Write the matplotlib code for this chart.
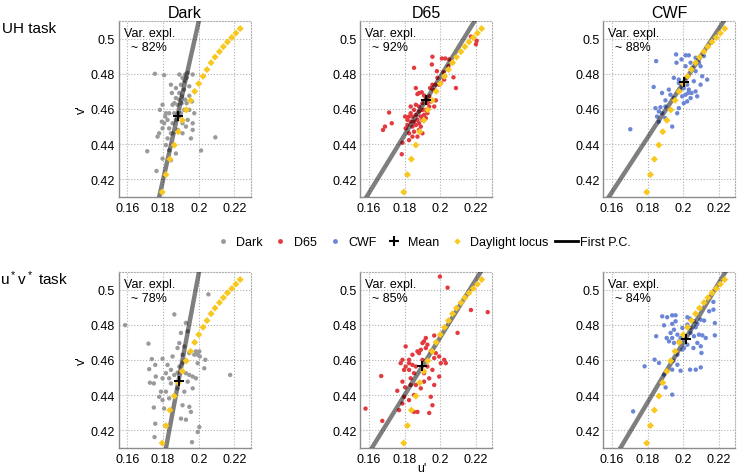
import matplotlib
matplotlib.use('Agg')
import matplotlib.pyplot as plt
from matplotlib.lines import Line2D

plt.rcParams['font.family'] = ['Liberation Sans', 'DejaVu Sans']
plt.rcParams['mathtext.default'] = 'regular'

# data (u', v')
dark_uh = [(0.1754, 0.4800), (0.1806, 0.4792), (0.1891, 0.4796), (0.1966, 0.4796), (0.1844, 0.4738),
           (0.1849, 0.4691), (0.1872, 0.4719), (0.1900, 0.4738), (0.1919, 0.4758), (0.1938, 0.4805),
           (0.1909, 0.4777), (0.1891, 0.4691), (0.1906, 0.4672), (0.1924, 0.4653), (0.1932, 0.4633),
           (0.1947, 0.4675), (0.1962, 0.4643), (0.1975, 0.4576), (0.1966, 0.4519), (0.1966, 0.4481),
           (0.1956, 0.4433), (0.1919, 0.4595), (0.1881, 0.4624), (0.1853, 0.4624), (0.1797, 0.4624),
           (0.1782, 0.4595), (0.1816, 0.4576), (0.1825, 0.4538), (0.1806, 0.4519), (0.1797, 0.4490),
           (0.1778, 0.4462), (0.1769, 0.4443), (0.1834, 0.4490), (0.1853, 0.4519), (0.1872, 0.4538),
           (0.1891, 0.4557), (0.1900, 0.4576), (0.1909, 0.4519), (0.1928, 0.4500), (0.1844, 0.4462),
           (0.1825, 0.4433), (0.1816, 0.4395), (0.1834, 0.4366), (0.1863, 0.4395), (0.1711, 0.4360),
           (0.1763, 0.4248), (0.2013, 0.4364), (0.2093, 0.4439), (0.1872, 0.4347), (0.1844, 0.4309),
           (0.1797, 0.4318), (0.1853, 0.4462), (0.1883, 0.4481), (0.1909, 0.4462), (0.1938, 0.4538),
           (0.1947, 0.4595), (0.1863, 0.4576), (0.1834, 0.4576), (0.1812, 0.4557), (0.1793, 0.4528),
           (0.1891, 0.4653), (0.1872, 0.4662), (0.1863, 0.4633), (0.1917, 0.4710), (0.1904, 0.4633),
           (0.1947, 0.4729), (0.1924, 0.4796), (0.1932, 0.4777)]

d65_uh = [(0.1956, 0.4897), (0.1953, 0.4853), (0.2009, 0.4887), (0.2028, 0.4887), (0.1981, 0.4815),
          (0.2018, 0.4809), (0.2046, 0.4843), (0.2069, 0.4863), (0.2050, 0.4882), (0.2074, 0.4780),
          (0.2088, 0.4719), (0.2003, 0.4748), (0.2022, 0.4767), (0.1956, 0.4738), (0.1975, 0.4738),
          (0.1853, 0.4834), (0.1863, 0.4719), (0.1881, 0.4691), (0.1872, 0.4685), (0.1896, 0.4695),
          (0.1909, 0.4677), (0.1919, 0.4662), (0.1938, 0.4672), (0.1947, 0.4643), (0.1928, 0.4633),
          (0.1900, 0.4633), (0.1881, 0.4614), (0.1863, 0.4624), (0.1853, 0.4595), (0.1834, 0.4576),
          (0.1825, 0.4557), (0.1844, 0.4557), (0.1863, 0.4567), (0.1881, 0.4586), (0.1900, 0.4595),
          (0.1919, 0.4595), (0.1928, 0.4576), (0.1909, 0.4567), (0.1891, 0.4557), (0.1872, 0.4538),
          (0.1853, 0.4528), (0.1834, 0.4528), (0.1844, 0.4500), (0.1863, 0.4509), (0.1881, 0.4519),
          (0.1900, 0.4538), (0.1919, 0.4548), (0.1938, 0.4614), (0.1966, 0.4614), (0.1975, 0.4649),
          (0.1713, 0.4580), (0.1690, 0.4500), (0.1679, 0.4481), (0.1728, 0.4519), (0.1806, 0.4490),
          (0.1816, 0.4509), (0.1825, 0.4462), (0.1853, 0.4471), (0.1881, 0.4481), (0.1825, 0.4423),
          (0.1788, 0.4408), (0.1784, 0.4343), (0.1900, 0.4462), (0.1891, 0.4500), (0.1844, 0.4443),
          (0.1872, 0.4443), (0.2172, 0.5011), (0.2204, 0.4987), (0.2200, 0.4968), (0.1984, 0.4777),
          (0.1994, 0.4738), (0.1960, 0.4710), (0.1943, 0.4719), (0.1834, 0.4614), (0.1816, 0.4538),
          (0.1803, 0.4557)]

cwf_uh = [(0.1703, 0.4485), (0.1848, 0.4872), (0.1960, 0.4910), (0.2013, 0.4905), (0.2031, 0.4905),
          (0.1990, 0.4882), (0.1962, 0.4863), (0.2041, 0.4863), (0.2069, 0.4891), (0.2088, 0.4863),
          (0.2013, 0.4843), (0.2050, 0.4834), (0.1947, 0.4777), (0.1975, 0.4767), (0.2016, 0.4777),
          (0.2022, 0.4738), (0.1994, 0.4729), (0.1984, 0.4710), (0.2031, 0.4710), (0.2069, 0.4700),
          (0.2078, 0.4672), (0.2134, 0.4767), (0.2097, 0.4843), (0.2116, 0.4901), (0.1834, 0.4725),
          (0.1881, 0.4691), (0.1928, 0.4681), (0.1900, 0.4649), (0.1947, 0.4662), (0.1844, 0.4605),
          (0.1863, 0.4586), (0.1881, 0.4576), (0.1900, 0.4548), (0.1853, 0.4557), (0.1863, 0.4528),
          (0.1975, 0.4605), (0.1966, 0.4576), (0.2003, 0.4633), (0.2022, 0.4643), (0.2041, 0.4662),
          (0.2046, 0.4691), (0.2013, 0.4681), (0.2028, 0.4691), (0.1994, 0.4672), (0.2097, 0.4738),
          (0.1938, 0.4500), (0.1900, 0.4614), (0.1872, 0.4610), (0.1919, 0.4710), (0.1975, 0.4748),
          (0.2003, 0.4719), (0.2059, 0.4758), (0.2106, 0.4786), (0.2069, 0.4815)]

dark_uv = [(0.1587, 0.4798), (0.1718, 0.4693), (0.1863, 0.4859), (0.2054, 0.4973), (0.2176, 0.4515),
           (0.1737, 0.4605), (0.1756, 0.4572), (0.1722, 0.4548), (0.1759, 0.4506), (0.1726, 0.4471),
           (0.1797, 0.4607), (0.1748, 0.4467), (0.1825, 0.4572), (0.1844, 0.4544), (0.1816, 0.4525),
           (0.1797, 0.4496), (0.1788, 0.4420), (0.1778, 0.4391), (0.1797, 0.4372), (0.1748, 0.4330),
           (0.1756, 0.4238), (0.1752, 0.4162), (0.1816, 0.4420), (0.1844, 0.4467), (0.1834, 0.4496),
           (0.1863, 0.4515), (0.1881, 0.4528), (0.1891, 0.4696), (0.1900, 0.4754), (0.1938, 0.4763),
           (0.1928, 0.4811), (0.1853, 0.4620), (0.1881, 0.4668), (0.1919, 0.4677), (0.1909, 0.4630),
           (0.1947, 0.4639), (0.1975, 0.4630), (0.1994, 0.4630), (0.1984, 0.4649), (0.2003, 0.4649),
           (0.2006, 0.4620), (0.2037, 0.4601), (0.2031, 0.4553), (0.1994, 0.4582), (0.1928, 0.4525),
           (0.1947, 0.4515), (0.1966, 0.4506), (0.1984, 0.4496), (0.1938, 0.4477), (0.1966, 0.4439),
           (0.1919, 0.4420), (0.1881, 0.4439), (0.1834, 0.4382), (0.1909, 0.4343), (0.1947, 0.4334),
           (0.1956, 0.4305), (0.1900, 0.4267), (0.1928, 0.4261), (0.2003, 0.4219), (0.1994, 0.4191),
           (0.1962, 0.4133), (0.1806, 0.4324), (0.1891, 0.4563), (0.1909, 0.4582), (0.1863, 0.4399)]

d65_uv = [(0.1998, 0.5074), (0.2041, 0.5011), (0.2266, 0.4872), (0.2172, 0.4884), (0.2097, 0.4754),
          (0.1581, 0.4324), (0.1675, 0.4254), (0.1669, 0.4509), (0.1806, 0.4677), (0.1788, 0.4601),
          (0.1778, 0.4582), (0.1825, 0.4601), (0.1844, 0.4630), (0.1872, 0.4649), (0.1881, 0.4639),
          (0.1900, 0.4696), (0.1909, 0.4706), (0.1919, 0.4668), (0.1928, 0.4687), (0.1947, 0.4649),
          (0.1975, 0.4639), (0.1966, 0.4611), (0.1994, 0.4620), (0.2022, 0.4601), (0.2031, 0.4582),
          (0.2003, 0.4582), (0.1994, 0.4506), (0.1956, 0.4544), (0.1928, 0.4563), (0.1909, 0.4525),
          (0.1938, 0.4496), (0.1909, 0.4477), (0.1891, 0.4439), (0.1863, 0.4458), (0.1834, 0.4496),
          (0.1853, 0.4525), (0.1825, 0.4544), (0.1806, 0.4563), (0.1825, 0.4582), (0.1797, 0.4544),
          (0.1788, 0.4477), (0.1759, 0.4425), (0.1803, 0.4445), (0.1834, 0.4458), (0.1797, 0.4391),
          (0.1853, 0.4401), (0.1825, 0.4372), (0.1853, 0.4305), (0.1872, 0.4305), (0.1947, 0.4391),
          (0.1966, 0.4458), (0.1938, 0.4299), (0.1956, 0.4343), (0.1863, 0.4563), (0.1844, 0.4572),
          (0.1900, 0.4601), (0.1919, 0.4725), (0.1891, 0.4658), (0.1966, 0.4739), (0.1788, 0.4353),
          (0.1769, 0.4315)]

cwf_uv = [(0.1719, 0.4308), (0.1783, 0.4564), (0.1839, 0.4602), (0.1864, 0.4583), (0.1848, 0.4735),
          (0.1882, 0.4848), (0.1910, 0.4843), (0.1938, 0.4854), (0.1957, 0.4854), (0.1938, 0.4805),
          (0.1957, 0.4820), (0.1892, 0.4797), (0.1907, 0.4725), (0.1929, 0.4754), (0.1948, 0.4772),
          (0.1967, 0.4744), (0.1938, 0.4725), (0.1920, 0.4706), (0.1948, 0.4697), (0.1976, 0.4706),
          (0.1985, 0.4725), (0.1995, 0.4782), (0.2023, 0.4843), (0.2038, 0.4835), (0.2060, 0.4820),
          (0.2079, 0.4805), (0.2098, 0.4829), (0.2117, 0.4824), (0.2070, 0.4786), (0.2041, 0.4754),
          (0.2060, 0.4735), (0.2088, 0.4744), (0.2107, 0.4740), (0.2126, 0.4725), (0.2079, 0.4697),
          (0.2098, 0.4678), (0.2102, 0.4640), (0.2057, 0.4668), (0.2023, 0.4687), (0.1995, 0.4659),
          (0.1967, 0.4630), (0.1945, 0.4596), (0.1967, 0.4573), (0.1985, 0.4539), (0.1938, 0.4545),
          (0.1910, 0.4539), (0.1892, 0.4517), (0.2038, 0.4545), (0.2070, 0.4545), (0.2098, 0.4558),
          (0.1938, 0.4403), (0.1901, 0.4444), (0.2169, 0.4930), (0.2169, 0.4886), (0.2177, 0.4810),
          (0.2177, 0.4740), (0.2145, 0.4877), (0.2004, 0.4668), (0.2023, 0.4801), (0.2041, 0.4782)]

locus_u = [0.1795, 0.1816, 0.1838, 0.1863, 0.1885, 0.1908, 0.1930, 0.1954, 0.1977, 0.2000,
           0.2024, 0.2046, 0.2069, 0.2091, 0.2116, 0.2138, 0.2161, 0.2185, 0.2208, 0.2232]
locus_v = [0.4128, 0.4227, 0.4315, 0.4395, 0.4471, 0.4536, 0.4595, 0.4649, 0.4700, 0.4744,
           0.4786, 0.4824, 0.4863, 0.4895, 0.4926, 0.4954, 0.4981, 0.5006, 0.5031, 0.5057]

# per panel: mean (u, v), slope of first PC, variance explained
means = [(0.1881, 0.4563), (0.1919, 0.4649), (0.2003, 0.4752),
         (0.1887, 0.4483), (0.1900, 0.4565), (0.2013, 0.4721)]
pc_slopes = [4.5, 1.65, 1.55, 5.4, 1.64, 1.70]
var_expl = [82, 92, 88, 78, 85, 84]

conditions = ['Dark', 'D65', 'CWF']
tasks = ['UH task', 'u$^*$v$^*$ task']
colors = {'Dark': '#9a9a9a', 'D65': '#e23a3e', 'CWF': '#6b86d6'}
locus_color = '#f9c81e'
panels = [dark_uh, d65_uh, cwf_uh, dark_uv, d65_uv, cwf_uv]

fig = plt.figure(figsize=(7.38, 4.77), dpi=100)
W, H = 738, 477
lefts = [118.5, 360, 603]
tops = [22, 273]
aw, ah = 132, 176

for r in range(2):
    for c in range(3):
        i = r * 3 + c
        ax = fig.add_axes([lefts[c] / W, 1 - (tops[r] + ah) / H, aw / W, ah / H])
        pts = panels[i]
        ax.scatter([p[0] for p in pts], [p[1] for p in pts], s=10, color=colors[conditions[c]],
                   edgecolors='none', zorder=2)
        mu, mv = means[i]
        ax.axline((mu, mv), slope=pc_slopes[i], color='black', alpha=0.5, lw=3.2, zorder=3)
        ax.scatter(locus_u, locus_v, marker='D', s=13, color=locus_color, edgecolors='none', zorder=4)
        ax.plot(mu, mv, marker='+', color='black', ms=7.5, mew=1.4, zorder=5)

        ax.set_xlim(0.155, 0.229)
        ax.set_ylim(0.41, 0.51)
        ax.set_xticks([0.16, 0.18, 0.2, 0.22])
        ax.set_xticklabels(['0.16', '0.18', '0.2', '0.22'])
        ax.set_yticks([0.42, 0.44, 0.46, 0.48, 0.5])
        ax.set_yticklabels(['0.42', '0.44', '0.46', '0.48', '0.5'])
        ax.tick_params(length=0, labelsize=9, colors='black')
        ax.tick_params(axis='x', pad=3.6)
        ax.tick_params(axis='y', pad=2.5)
        ax.grid(True, ls=':', color='#b0b0b0', lw=0.8)
        ax.set_axisbelow(True)
        for s in ['left', 'bottom']:
            ax.spines[s].set_color('#8c8c8c')
            ax.spines[s].set_linewidth(1.0)
        for s in ['top', 'right']:
            ax.spines[s].set_color('#b0b0b0')
            ax.spines[s].set_linestyle(':')
            ax.spines[s].set_linewidth(0.8)

        ax.text(0.04, 0.967, 'Var. expl.\n  ~ %d%%' % var_expl[i], transform=ax.transAxes,
                ha='left', va='top', fontsize=9, linespacing=1.2)
        if r == 0:
            ax.set_title(conditions[c], fontsize=11.5, pad=3)
        if c == 0:
            fig.text(82 / W, 1 - (tops[r] + ah / 2) / H, "v'", rotation=90,
                     ha='center', va='center', fontsize=9)

fig.text(2 / W, 1 - 29 / H, tasks[0], ha='left', va='center', fontsize=11)
fig.text(0 / W, 1 - 279 / H, tasks[1], ha='left', va='center', fontsize=11)
fig.text(422 / W, 1 - 469 / H, "u'", ha='center', va='center', fontsize=9)

handles = [
    Line2D([], [], ls='none', marker='o', ms=3.5, color=colors['Dark'], mec='none'),
    Line2D([], [], ls='none', marker='o', ms=3.5, color=colors['D65'], mec='none'),
    Line2D([], [], ls='none', marker='o', ms=3.5, color=colors['CWF'], mec='none'),
    Line2D([], [], ls='none', marker='+', ms=6.5, mew=1.5, color='black'),
    Line2D([], [], ls='none', marker='D', ms=3.2, color=locus_color, mec='none'),
    Line2D([], [], ls='-', lw=2, color='black'),
]
labels = ['Dark', 'D65', 'CWF', 'Mean', 'Daylight locus', 'First P.C.']
fig.legend(handles, labels, loc='center', bbox_to_anchor=(421 / W, 1 - 243 / H), ncol=6,
           frameon=False, fontsize=9, handlelength=1.8, handletextpad=0.2,
           columnspacing=0.5, borderpad=0, borderaxespad=0)

fig.savefig('out.png', dpi=100, facecolor='white')
